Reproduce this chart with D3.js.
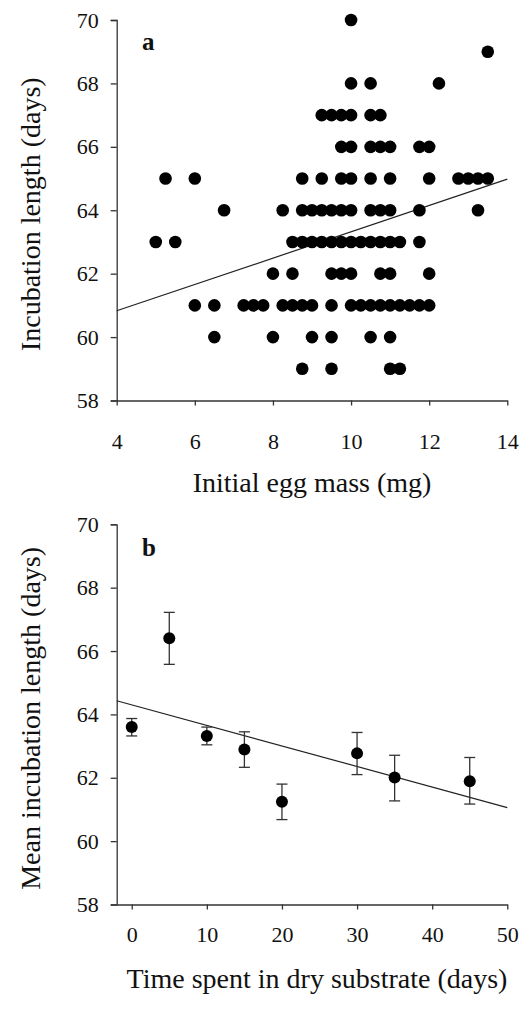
<!DOCTYPE html>
<html><head><meta charset="utf-8">
<script src="https://cdn.jsdelivr.net/npm/d3@7"></script>
<style>
body{margin:0;background:#fff;}
svg text{font-family:"Liberation Serif","Times New Roman",serif;fill:#111;}
</style></head>
<body><svg id="c" width="523" height="1010"></svg>
<script>
// Panel a: incubation length rows and the egg masses of the dots on each row
const incubationRows = [70, 69, 68, 67, 66, 65, 64, 63, 62, 61, 60, 59];
const eggMassByRow = [
  [10],
  [13.5],
  [10, 10.5, 12.25],
  [9.25, 9.5, 9.75, 10, 10.5, 10.75],
  [9.75, 10, 10.5, 10.75, 11, 11.75, 12],
  [5.25, 6, 8.75, 9.25, 9.75, 10, 10.5, 11, 12, 12.75, 13, 13.25, 13.5],
  [6.75, 8.25, 8.75, 9, 9.25, 9.5, 9.75, 10, 10.5, 10.75, 11, 11.75, 13.25],
  [5, 5.5, 8.5, 8.75, 9, 9.25, 9.5, 9.75, 10, 10.25, 10.5, 10.75, 11, 11.25, 11.75],
  [8, 8.5, 9.5, 9.75, 10, 10.75, 11, 12],
  [6, 6.5, 7.25, 7.5, 7.75, 8.25, 8.5, 8.75, 9, 9.5, 10, 10.25, 10.5, 10.75, 11, 11.25, 11.5, 11.75, 12],
  [6.5, 8, 9, 9.5, 10.5, 11],
  [8.75, 9.5, 11, 11.25]
];
const trendAx = [4, 14];
const trendAy = [60.83, 64.98];
const ticksAx = [4, 6, 8, 10, 12, 14];
const ticksY = [58, 60, 62, 64, 66, 68, 70];

// Panel b
const daysDry = [0, 5, 10, 15, 20, 30, 35, 45];
const meanInc = [63.6, 66.4, 63.32, 62.89, 61.24, 62.77, 62.01, 61.89];
const lowerInc = [63.32, 65.58, 63.04, 62.33, 60.68, 62.1, 61.27, 61.17];
const upperInc = [63.87, 67.22, 63.6, 63.45, 61.8, 63.43, 62.71, 62.64];
const trendBx = [-2, 50];
const trendBy = [64.43, 61.06];
const ticksBx = [0, 10, 20, 30, 40, 50];

const svg = d3.select("#c");
const axisColor = "#333";

function styleAxis(g){
  g.select(".domain").attr("stroke", axisColor).attr("stroke-width", 1.3);
  g.selectAll(".tick line").attr("stroke", axisColor).attr("stroke-width", 1.3);
  g.selectAll("text").attr("font-size", 22).attr("fill", "#111")
    .attr("font-family", '"Liberation Serif","Times New Roman",serif');
}

function panel(cfg){
  const x = d3.scaleLinear().domain(cfg.xd).range([116.7, 507.3]);
  const y = d3.scaleLinear().domain([58, 70]).range([cfg.yb, cfg.yt]);
  const gy = svg.append("g").attr("transform", `translate(${x.range()[0]},0)`)
    .call(d3.axisLeft(y).tickValues(ticksY).tickSize(6).tickPadding(12).tickFormat(d3.format("d")));
  styleAxis(gy);
  const gx = svg.append("g").attr("transform", `translate(0,${cfg.yb})`)
    .call(d3.axisBottom(x).tickValues(cfg.xt).tickSize(5).tickSizeOuter(0).tickPadding(cfg.xpad).tickFormat(d3.format("d")));
  styleAxis(gx);
  // trend line
  svg.append("line")
    .attr("x1", x(cfg.tx[0])).attr("y1", y(cfg.ty[0]))
    .attr("x2", x(cfg.tx[1])).attr("y2", y(cfg.ty[1]))
    .attr("stroke", "#222").attr("stroke-width", 1.2);
  // labels
  svg.append("text").attr("x", cfg.xtitleX).attr("y", cfg.xtitleY)
    .attr("text-anchor", "middle").attr("font-size", 28).text(cfg.xtitle);
  svg.append("text").attr("transform", `translate(30,${(cfg.yb + cfg.yt)/2 + 4}) rotate(-90)`)
    .attr("text-anchor", "middle").attr("dominant-baseline", "central")
    .attr("font-size", 28).text(cfg.ytitle);
  svg.append("text").attr("x", 142).attr("y", cfg.labelY)
    .attr("font-size", 25).attr("font-weight", "bold").text(cfg.label);
  return {x, y};
}

// Panel a
const A = panel({xd: [4, 14], xt: ticksAx, yt: 20, yb: 400.5, xpad: 28,
  tx: trendAx, ty: trendAy, xtitle: "Initial egg mass (mg)", xtitleX: 312, xtitleY: 492,
  ytitle: "Incubation length (days)", label: "a", labelY: 50});
const pts = [];
incubationRows.forEach((d, i) => eggMassByRow[i].forEach(m => pts.push({m, d})));
svg.append("g").selectAll("circle").data(pts).join("circle")
  .attr("cx", p => A.x(p.m)).attr("cy", p => A.y(p.d)).attr("r", 6.3).attr("fill", "#000");

// Panel b
const B = panel({xd: [-2, 50], xt: ticksBx, yt: 524.3, yb: 904.5, xpad: 17,
  tx: trendBx, ty: trendBy, xtitle: "Time spent in dry substrate (days)", xtitleX: 317, xtitleY: 988,
  ytitle: "Mean incubation length (days)", label: "b", labelY: 556});
const gb = svg.append("g");
daysDry.forEach((d, i) => {
  const cx = B.x(d);
  gb.append("line").attr("x1", cx).attr("x2", cx).attr("y1", B.y(lowerInc[i])).attr("y2", B.y(upperInc[i]))
    .attr("stroke", "#333").attr("stroke-width", 1.3);
  [lowerInc[i], upperInc[i]].forEach(v => gb.append("line")
    .attr("x1", cx - 5.5).attr("x2", cx + 5.5).attr("y1", B.y(v)).attr("y2", B.y(v))
    .attr("stroke", "#333").attr("stroke-width", 1.3));
  gb.append("circle").attr("cx", cx).attr("cy", B.y(meanInc[i])).attr("r", 6).attr("fill", "#000");
});
</script></body></html>
